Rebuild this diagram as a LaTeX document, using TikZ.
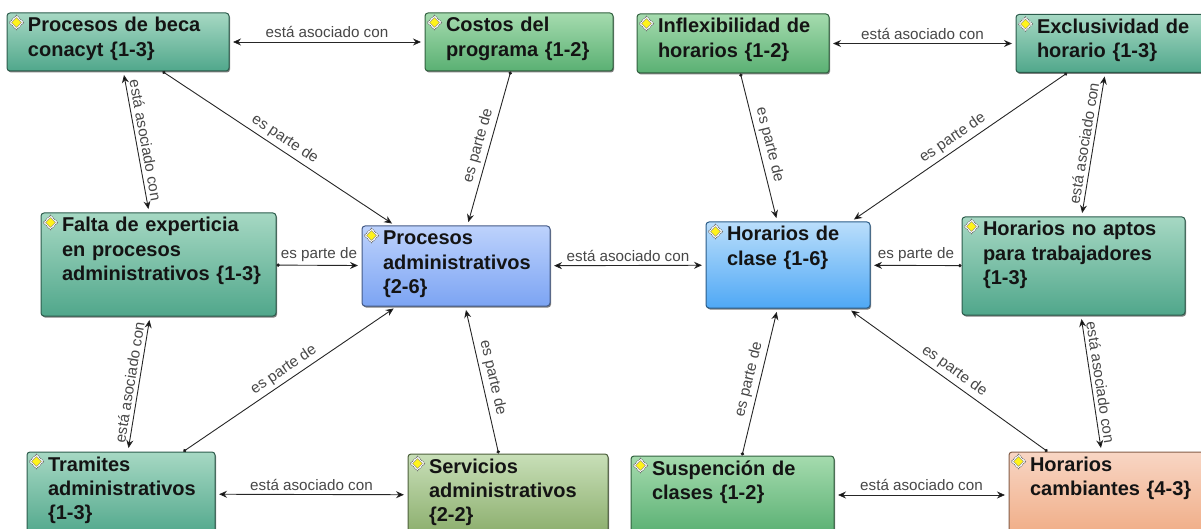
\documentclass[tikz,border=0pt]{standalone}
\usepackage{fontspec}
\setmainfont{Liberation Sans}
\usepackage{tikz}
\usetikzlibrary{arrows.meta,shadows,shapes.geometric}

\tikzset{
    concept/.style n args={4}{draw=#4!55!black, line width=1pt, rounded corners=3pt, top color=#3, bottom color=#4,
        text width=#1-2pt, text height=18pt, text depth=#2-20pt, inner sep=1pt,
        font=\fontsize{20}{24.3}\selectfont\bfseries, text=black!92,
        execute at begin node={\leftskip=20pt\rightskip=0pt plus 1fil\relax},
        drop shadow={shadow xshift=1pt,shadow yshift=-1.5pt,fill=black,opacity=.5}},
    teal/.style 2 args={concept={#1}{#2}{teallight}{tealdark}},
    leaf/.style 2 args={concept={#1}{#2}{leaflight}{leafdark}},
    rel/.style={font=\fontsize{15.2}{17}\selectfont, text=black!72, inner sep=3.5pt},
    asoc/.style={<->, shorten >=3.5pt, shorten <=3.5pt},
    parte/.style={{Circle[length=3.4pt]}->, shorten >=3.5pt, shorten <=0pt},
    iconback/.style={diamond, draw=black!60, densely dotted, fill=white, inner sep=0pt, minimum size=15pt},
    iconfront/.style={diamond, draw=black!50, line width=.3pt, fill=yellow!90!white, inner sep=0pt, minimum size=10pt}
}
\definecolor{teallight}{HTML}{A6D8C3}
\definecolor{tealdark}{HTML}{50A78B}
\definecolor{leaflight}{HTML}{A5DBAE}
\definecolor{leafdark}{HTML}{5AB073}
\definecolor{olivelight}{HTML}{C8DFB8}
\definecolor{olivedark}{HTML}{8AAD6B}
\definecolor{bluelight}{HTML}{BDD2FC}
\definecolor{bluedark}{HTML}{7CA4F3}
\definecolor{skylight}{HTML}{BADEFB}
\definecolor{skydark}{HTML}{4FA8F5}
\definecolor{salmonlight}{HTML}{F8D6C4}
\definecolor{salmondark}{HTML}{F0AB84}

\begin{document}
\begin{tikzpicture}[x=1pt,y=1pt,>={Stealth[length=8pt,width=7pt]},line width=.9pt]
    \path[use as bounding box,clip] (0,0) rectangle (1201,-529);

    \node[teal={222pt}{58pt}] (beca) at (118,-42) {Procesos de beca\\conacyt \{1-3\}};
    \node[leaf={188pt}{58pt}] (costos) [right of=beca, node distance=401pt] {Costos del\\programa \{1-2\}};
    \node[leaf={192pt}{59pt}] (inflex) [right of=costos, node distance=214pt, yshift=-1.5pt] {Inflexibilidad de\\horarios \{1-2\}};
    \node[teal={188pt}{58pt}] (exclus) [right of=inflex, node distance=377pt] {Exclusividad de\\horario \{1-3\}};

    \node[teal={235pt}{103pt}] (falta) [below of=beca, node distance=222.5pt, xshift=40.5pt] {Falta de experticia\\en procesos\\administrativos \{1-3\}};
    \node[concept={188pt}{80pt}{bluelight}{bluedark}] (procesos) [right of=falta, node distance=297.5pt, yshift=-1.5pt] {Procesos\\administrativos\\\{2-6\}};
    \node[concept={164pt}{86pt}{skylight}{skydark}] (clase) [right of=procesos, node distance=332pt, yshift=1pt] {Horarios de\\clase \{1-6\}};
    \node[teal={223pt}{98pt}] (aptos) [right of=clase, node distance=285.5pt, yshift=-1pt] {Horarios no aptos\\para trabajadores\\\{1-3\}};

    \node[teal={188pt}{84pt}] (tramites) [below of=falta, node distance=229.5pt, xshift=-37.5pt] {Tramites\\administrativos\\\{1-3\}};
    \node[concept={200pt}{82pt}{olivelight}{olivedark}] (servicios) [right of=tramites, node distance=387pt, yshift=-1pt] {Servicios\\administrativos\\\{2-2\}};
    \node[leaf={203pt}{78pt}] (suspen) [right of=servicios, node distance=224.5pt] {Suspención de\\clases \{1-2\}};
    \node[concept={198pt}{86pt}{salmonlight}{salmondark}] (cambia) [right of=suspen, node distance=375.5pt] {Horarios\\cambiantes \{4-3\}};

    \foreach \n in {beca,costos,inflex,exclus,falta,procesos,clase,aptos,tramites,servicios,suspen,cambia} {
        \node[iconback] (back\n) at ([xshift=10pt,yshift=-10pt]\n.north west) {};
        \node[iconfront] (icon\n) at (back\n) {};
    }

    \path[draw=black!85]
        (beca) edge[asoc] node[rel,above] {está asociado con} (costos)
        (inflex) edge[asoc] node[rel,above] {está asociado con} (exclus)
        (procesos) edge[asoc] node[rel,above] {está asociado con} (clase)
        (tramites) edge[asoc] node[rel,above] {está asociado con} (servicios)
        (suspen) edge[asoc] node[rel,above] {está asociado con} (cambia)
        (beca) edge[asoc] node[rel,above,sloped] {está asociado con} (falta)
        (tramites) edge[asoc] node[rel,above,sloped] {está asociado con} (falta)
        (aptos) edge[asoc] node[rel,above,sloped] {está asociado con} (exclus)
        (aptos) edge[asoc] node[rel,above,sloped] {está asociado con} (cambia)
        (beca) edge[parte] node[rel,above,sloped] {es parte de} (procesos)
        (costos) edge[parte] node[rel,above,sloped] {es parte de} (procesos)
        (falta) edge[parte] node[rel,above] {es parte de} (procesos)
        (tramites) edge[parte] node[rel,above,sloped] {es parte de} (procesos)
        (servicios) edge[parte] node[rel,above,sloped] {es parte de} (procesos)
        (inflex) edge[parte] node[rel,above,sloped] {es parte de} (clase)
        (exclus) edge[parte] node[rel,above,sloped] {es parte de} (clase)
        (aptos) edge[parte] node[rel,above] {es parte de} (clase)
        (suspen) edge[parte] node[rel,above,sloped] {es parte de} (clase)
        (cambia) edge[parte] node[rel,above,sloped] {es parte de} (clase);
\end{tikzpicture}
\end{document}
